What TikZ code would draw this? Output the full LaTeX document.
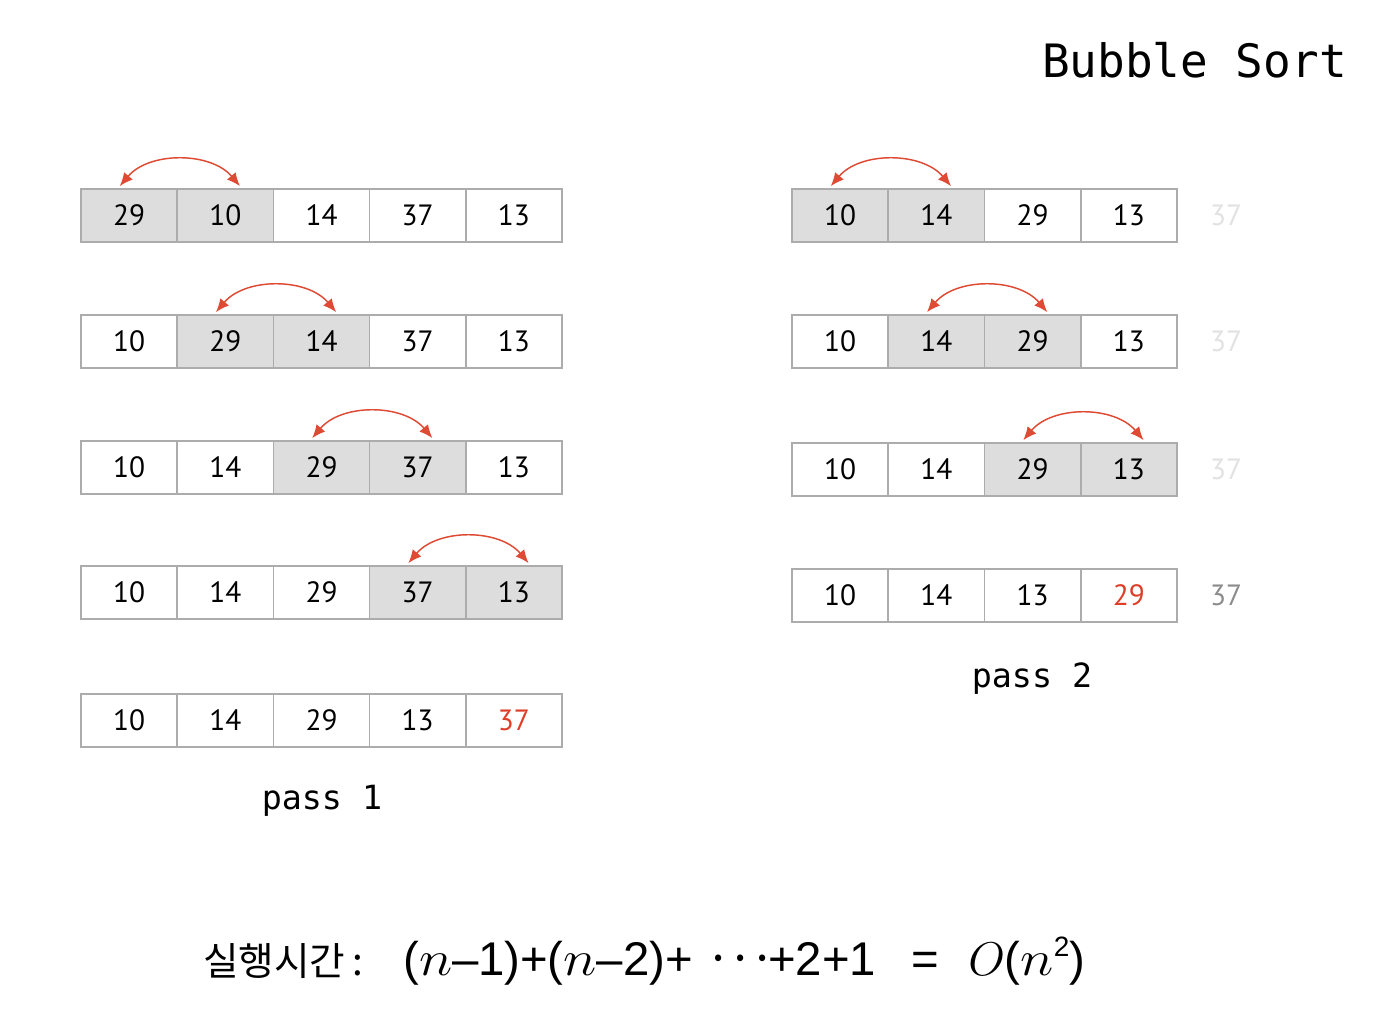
\RequirePackage{fix-cm}
\documentclass[tikz,border=0pt]{standalone}
\usepackage{fontspec}
\usetikzlibrary{arrows.meta}
\newfontfamily\numfont{PT Sans}
\newfontfamily\monofont{DejaVu Sans Mono}
\newfontfamily\cjk{Noto Sans CJK KR}
\newfontfamily\frmfont{Liberation Sans}
\newcommand\nvar{\scalebox{1.2}[1.05]{$n$}}
\newcommand\mdot{\makebox[16.5pt]{\cjk ·}}
\definecolor{cellborder}{RGB}{172,172,172}
\definecolor{cellfill}{RGB}{221,221,221}
\definecolor{arrowred}{RGB}{222,74,52}
\definecolor{numred}{RGB}{222,62,40}
\definecolor{faded}{RGB}{226,226,226}
\definecolor{donegray}{RGB}{140,140,140}
\tikzset{
  cell/.style={draw=cellborder, line width=1.3pt, minimum width=72.15pt, minimum height=39.75pt,
    inner sep=0pt, font=\numfont\fontsize{22}{24}\selectfont, text=black, fill=white},
  cellhi/.style={fill=cellfill},
  cellplain/.style={},
  cellred/.style={text=numred},
  swaparrow/.style={draw=arrowred, line width=1.1pt, {Latex[length=10pt,width=8.5pt]}-{Latex[length=10pt,width=8.5pt]}},
  sortedval/.style={font=\numfont\fontsize{22}{24}\selectfont, inner sep=0pt},
  passlabel/.style={font=\monofont\fontsize{25}{28}\selectfont, inner sep=0pt},
  formula/.style={anchor=base west, inner sep=0pt, font=\frmfont\fontsize{35.5}{40}\selectfont},
}
\begin{document}
\begin{tikzpicture}[x=0.75pt,y=-0.75pt]
\useasboundingbox[fill=white] (0,0) rectangle (1384,1020);
\node[font=\monofont\fontsize{34.5}{38}\selectfont, anchor=base east, inner sep=0pt] (title) at (1347,78) {Bubble Sort};
% pass 1
\foreach \r/\y/\vals in {
  1/215.5/{29/cellhi,10/cellhi,14/cellplain,37/cellplain,13/cellplain},
  2/341.5/{10/cellplain,29/cellhi,14/cellhi,37/cellplain,13/cellplain},
  3/467.5/{10/cellplain,14/cellplain,29/cellhi,37/cellhi,13/cellplain},
  4/592.5/{10/cellplain,14/cellplain,29/cellplain,37/cellhi,13/cellhi},
  5/720.5/{10/cellplain,14/cellplain,29/cellplain,13/cellplain,37/cellred}}{
  \foreach \v/\s [count=\c] in \vals {
    \node[cell,\s] (p1r\r-\c) at ({129.1+96.2*(\c-1)},\y) {\v};
  }
}
% pass 2
\foreach \r/\y/\vals in {
  1/215.5/{10/cellhi,14/cellhi,29/cellplain,13/cellplain},
  2/341.5/{10/cellplain,14/cellhi,29/cellhi,13/cellplain},
  3/469.5/{10/cellplain,14/cellplain,29/cellhi,13/cellhi},
  4/595.5/{10/cellplain,14/cellplain,13/cellplain,29/cellred}}{
  \foreach \v/\s [count=\c] in \vals {
    \node[cell,\s] (p2r\r-\c) at ({840.1+96.25*(\c-1)},\y) {\v};
  }
}
\node[sortedval, text=faded] (s1) at (1226,215.5) {37};
\node[sortedval, text=faded] (s2) at (1226,341.5) {37};
\node[sortedval, text=faded] (s3) at (1226,469.5) {37};
\node[sortedval, text=donegray] (s4) at (1226,595.5) {37};
% swap arrows
\foreach \p/\r/\a/\b in {p1/1/1/2, p1/2/2/3, p1/3/3/4, p1/4/4/5, p2/1/1/2, p2/2/2/3, p2/3/3/4}{
  \draw[swaparrow] ([xshift=-7pt,yshift=1.5pt]\p r\r-\a.north)
    .. controls +(22pt,26pt) and +(-22pt,26pt) .. ([xshift=11pt,yshift=1.5pt]\p r\r-\b.north);
}
\node[passlabel] (pass1) at (322,801) {pass 1};
\node[passlabel] (pass2) at (1032,679) {pass 2};
\node[anchor=base west, inner sep=0pt, font=\cjk\fontsize{29}{32}\selectfont] (runtime) at (203,975)
  {실행시간\hspace{5pt}:};
\node[formula] (f1) at (403,975) {(\nvar–1)};
\node[formula] (f2) at (520,975) {+(\nvar–2)+};
\node[formula] (dots) at (707,975) {\mdot\mdot\mdot};
\node[formula] (f3) at (768,975) {+2+1};
\node[formula] (f4) at (911,975) {=};
\node[formula] (f5) at (968,975) {$O$(\nvar\raisebox{.4em}{\fontsize{21}{24}\selectfont 2})};
\end{tikzpicture}
\end{document}
